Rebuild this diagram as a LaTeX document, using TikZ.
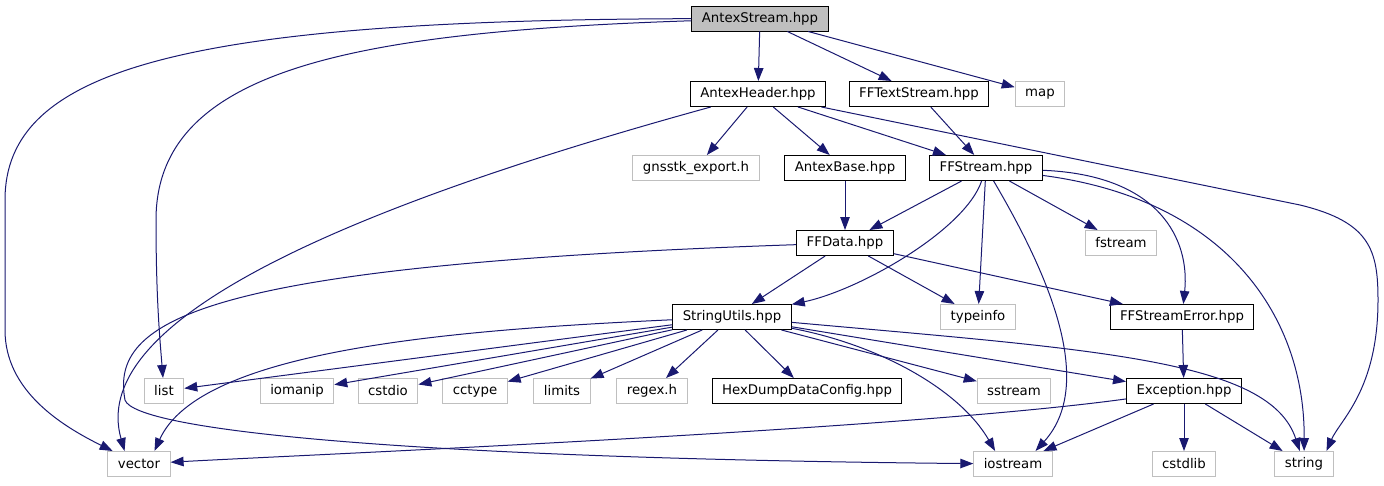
\documentclass[tikz,border=0pt]{standalone}
\usepackage{fontspec}
\setmainfont{DejaVu Sans}
\usetikzlibrary{arrows.meta}
\definecolor{edgeblue}{HTML}{191970}
\definecolor{sysgrey}{HTML}{BFBFBF}
\begin{document}
\begin{tikzpicture}[x=1pt, y=-1pt, line width=1pt,
    >={Triangle[length=13pt,width=9.5pt]},
    hdr/.style={draw=black, fill=white, minimum height=25pt, inner xsep=10pt, inner ysep=0pt, font=\fontsize{13.3}{16}\selectfont},
    sys/.style={hdr, draw=sysgrey},
    root/.style={hdr, fill=sysgrey},
    dep/.style={->, color=edgeblue}] % include graph
        \useasboundingbox (0,0) rectangle (1384,485);
        \node[root] (stream) at (760,18.5) {AntexStream.hpp};
        \node[hdr] (header) at (758,94) {AntexHeader.hpp};
        \node[hdr] (textstream) at (919,94) {FFTextStream.hpp};
        \node[sys] (map) at (1040,94) {map};
        \node[sys] (export) at (696,168) {gnsstk\_export.h};
        \node[hdr] (base) at (845,168) {AntexBase.hpp};
        \node[hdr] (ffstream) at (986,168) {FFStream.hpp};
        \node[hdr] (ffdata) at (845,243) {FFData.hpp};
        \node[sys] (fstream) at (1121,243) {fstream};
        \node[hdr] (strutils) at (732,317) {StringUtils.hpp};
        \node[sys] (typeinfo) at (978,317) {typeinfo};
        \node[hdr] (streamerr) at (1182,317) {FFStreamError.hpp};
        \node[sys] (list) at (164,391) {list};
        \node[sys] (iomanip) at (297,391) {iomanip};
        \node[sys] (cstdio) at (388,391) {cstdio};
        \node[sys] (cctype) at (475,391) {cctype};
        \node[sys] (limits) at (562,391) {limits};
        \node[sys] (regex) at (652,391) {regex.h};
        \node[hdr] (hexdump) at (807,391) {HexDumpDataConfig.hpp};
        \node[sys] (sstream) at (1014,391) {sstream};
        \node[hdr] (exception) at (1184,391) {Exception.hpp};
        \node[sys] (vector) at (139,464) {vector};
        \node[sys] (iostream) at (1013,464) {iostream};
        \node[sys] (cstdlib) at (1184,464) {cstdlib};
        \node[sys] (string) at (1304,464) {string};
        \draw[dep] (stream) .. controls (180,20) and (5,70) .. (5,200) -- (5,330) .. controls (5,390) and (60,425) .. (vector);
        \draw[dep] (stream) .. controls (350,32) and (156,70) .. (156,220) .. controls (156,300) and (160,340) .. (list);
        \draw[dep] (stream) -- (header);
        \draw[dep] (stream) -- (textstream);
        \draw[dep] (stream) -- (map);
        \draw[dep] (header) .. controls (300,220) and (90,330) .. (vector.138);
        \draw[dep] (header) -- (export);
        \draw[dep] (header) -- (base);
        \draw[dep] (header) -- (ffstream);
        \draw[dep] (header) -- (1300,205) .. controls (1370,222) and (1378,250) .. (1378,300) .. controls (1378,390) and (1340,420) .. (string.30);
        \draw[dep] (textstream) -- (ffstream);
        \draw[dep] (base) -- (ffdata);
        \draw[dep] (ffstream) -- (ffdata);
        \draw[dep] (ffstream) .. controls (965,230) and (860,290) .. (strutils);
        \draw[dep] (ffstream) -- (typeinfo);
        \draw[dep] (ffstream) .. controls (1040,260) and (1100,380) .. (iostream.30);
        \draw[dep] (ffstream) -- (fstream);
        \draw[dep] (ffstream) .. controls (1160,175) and (1190,240) .. (streamerr);
        \draw[dep] (ffstream) .. controls (1230,200) and (1305,320) .. (string);
        \draw[dep] (ffdata) .. controls (200,265) and (110,320) .. (125,400) .. controls (135,430) and (400,458) .. (iostream);
        \draw[dep] (ffdata) -- (strutils);
        \draw[dep] (ffdata) -- (typeinfo);
        \draw[dep] (ffdata) -- (streamerr);
        \draw[dep] (strutils) -- (list);
        \draw[dep] (strutils) .. controls (450,330) and (200,350) .. (vector.40);
        \draw[dep] (strutils) -- (iomanip);
        \draw[dep] (strutils) -- (cstdio);
        \draw[dep] (strutils) -- (cctype);
        \draw[dep] (strutils) -- (limits);
        \draw[dep] (strutils) -- (regex);
        \draw[dep] (strutils) -- (hexdump);
        \draw[dep] (strutils) -- (sstream);
        \draw[dep] (strutils) -- (exception);
        \draw[dep] (strutils) .. controls (880,345) and (960,390) .. (iostream.144);
        \draw[dep] (strutils) .. controls (1100,350) and (1270,360) .. (string);
        \draw[dep] (streamerr) -- (exception);
        \draw[dep] (exception) .. controls (900,430) and (300,455) .. (vector);
        \draw[dep] (exception) -- (iostream);
        \draw[dep] (exception) -- (cstdlib);
        \draw[dep] (exception) -- (string);
      \end{tikzpicture}
\end{document}
